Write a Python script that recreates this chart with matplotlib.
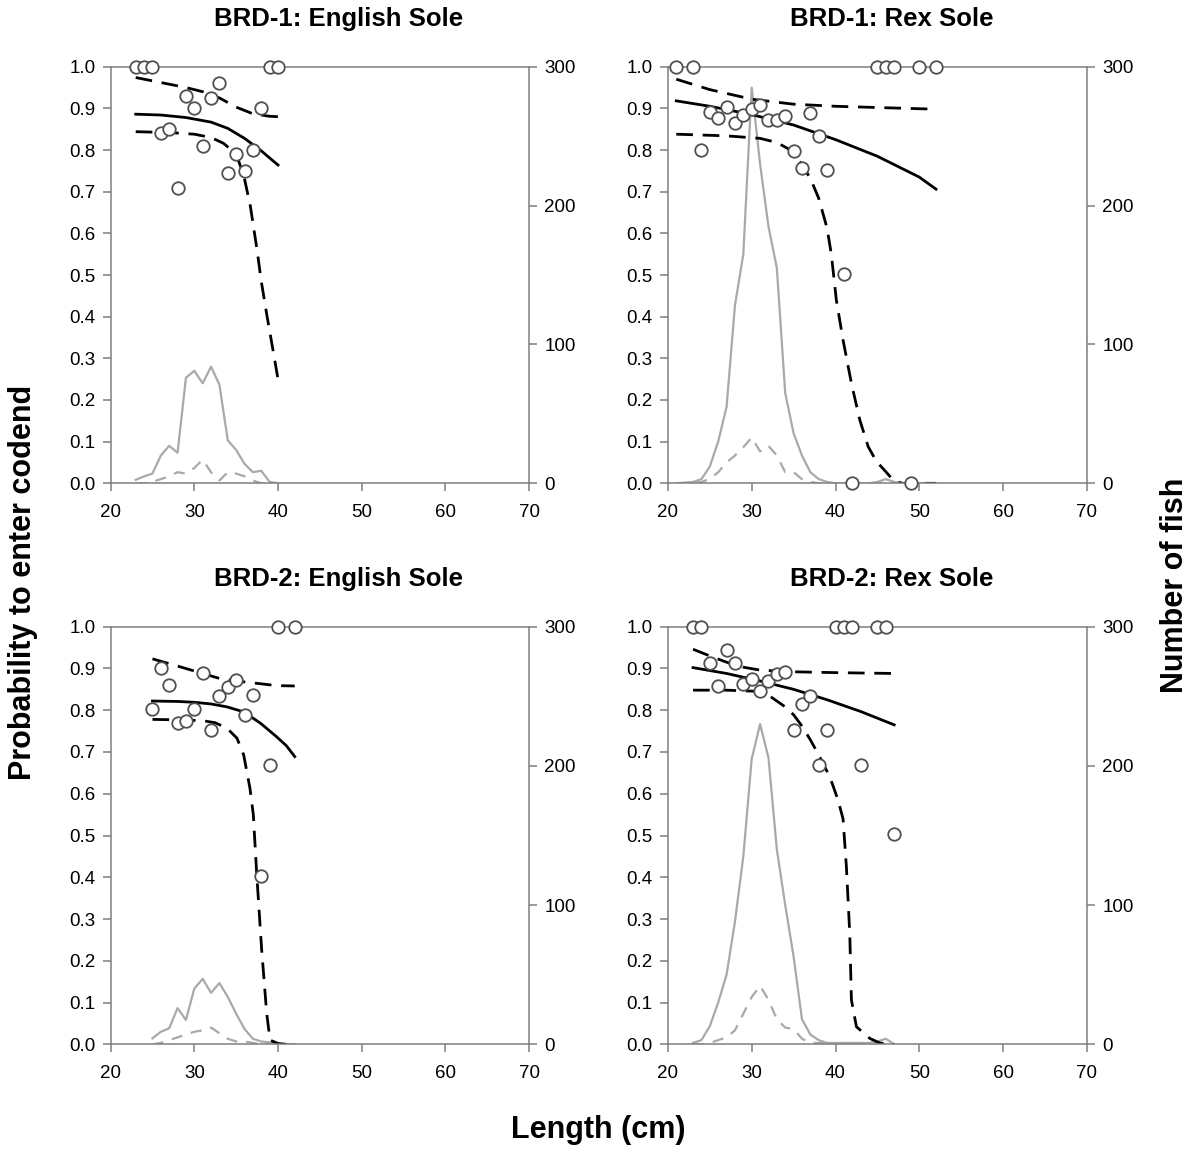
import matplotlib
matplotlib.use("Agg")
import matplotlib.pyplot as plt

plt.rcParams['font.family'] = ['Liberation Sans', 'DejaVu Sans']

titles = ["BRD-1: English Sole", "BRD-1: Rex Sole", "BRD-2: English Sole", "BRD-2: Rex Sole"]

# ---- BRD-1 English Sole ----
e1_obs_len = [23, 24, 25, 26, 27, 28, 29, 30, 31, 32, 33, 34, 35, 36, 37, 38, 39, 40]
e1_obs_p = [1.0, 1.0, 1.0, 0.84, 0.85, 0.71, 0.93, 0.90, 0.81, 0.925, 0.96, 0.745, 0.79, 0.75, 0.80, 0.90, 1.0, 1.0]
e1_fit_len = [23, 26, 29, 32, 34, 36, 38, 40]
e1_fit = [0.886, 0.884, 0.878, 0.867, 0.852, 0.828, 0.798, 0.764]
e1_up_len = [23, 25, 27, 29, 31, 33, 35, 37, 39, 40]
e1_up = [0.974, 0.966, 0.958, 0.950, 0.940, 0.925, 0.903, 0.887, 0.881, 0.880]
e1_lo_len = [23, 27, 30, 32, 33.5, 35, 35.9, 36.7, 37.5, 38, 38.7, 39.4, 40]
e1_lo = [0.844, 0.842, 0.838, 0.83, 0.816, 0.79, 0.74, 0.665, 0.56, 0.485, 0.40, 0.32, 0.25]
e1_n_len = list(range(23, 41))
e1_n_total = [2.5, 5, 7, 20, 27, 22, 76, 81, 72, 84, 71, 31, 24, 14, 8, 9, 1, 0]
e1_n_codend = [0, 0, 1, 3, 5, 8, 7, 11, 17, 8, 2, 8, 7, 5, 2, 0, 0, 0]

# ---- BRD-1 Rex Sole ----
r1_obs_len = [21, 23, 24, 25, 26, 27, 28, 29, 30, 31, 32, 33, 34, 35, 36, 37, 38, 39, 41, 42, 45, 46, 47, 49, 50, 52]
r1_obs_p = [1.0, 1.0, 0.80, 0.892, 0.878, 0.904, 0.864, 0.884, 0.898, 0.908, 0.872, 0.872, 0.882, 0.798, 0.758,
            0.89, 0.834, 0.752, 0.502, 0.0, 1.0, 1.0, 1.0, 0.0, 1.0, 1.0]
r1_fit_len = [21, 25, 30, 35, 40, 45, 50, 52]
r1_fit = [0.918, 0.905, 0.885, 0.86, 0.825, 0.785, 0.735, 0.706]
r1_up_len = [21, 25, 30, 35, 40, 45, 52]
r1_up = [0.97, 0.945, 0.922, 0.91, 0.905, 0.902, 0.898]
r1_lo_len = [21, 27, 31, 33, 35, 36, 37, 38, 39, 39.5, 40.1, 40.9, 41.9, 42.9, 43.9, 44.9, 46, 47, 48, 52]
r1_lo = [0.838, 0.834, 0.828, 0.818, 0.796, 0.764, 0.732, 0.684, 0.612, 0.55, 0.44, 0.344, 0.24, 0.152,
         0.088, 0.052, 0.028, 0.005, 0.0, 0.0]
r1_n_len = list(range(21, 53))
r1_n_total = [0, 0.5, 1, 3, 12, 30, 55, 128, 165, 285, 230, 185, 155, 65, 36, 20, 8, 3, 1, 0, 0, 1, 0, 0,
              1, 3, 1, 0, 0, 0, 0, 0]
r1_n_codend = [0, 0, 0, 1, 3, 8, 15, 20, 26, 33, 23, 27, 20, 8, 8, 3, 1, 0, 0, 0, 0, 0, 0, 0,
               0, 0, 0, 0, 0, 0, 0, 0]

# ---- BRD-2 English Sole ----
e2_obs_len = [25, 26, 27, 28, 29, 30, 31, 32, 33, 34, 35, 36, 37, 38, 39, 40, 42]
e2_obs_p = [0.802, 0.902, 0.86, 0.769, 0.774, 0.802, 0.888, 0.753, 0.834, 0.856, 0.872, 0.789, 0.836, 0.403,
            0.669, 1.0, 1.0]
e2_fit_len = [25, 28, 30, 32, 33.9, 35.9, 37.9, 39.8, 41, 42]
e2_fit = [0.822, 0.821, 0.819, 0.815, 0.808, 0.796, 0.769, 0.737, 0.715, 0.689]
e2_up_len = [25, 28.3, 31, 33.2, 35.9, 39.8, 42]
e2_up = [0.923, 0.904, 0.888, 0.875, 0.868, 0.859, 0.858]
e2_lo_len = [25, 28, 31, 32.5, 33.9, 35.1, 35.9, 36.65, 37.05, 37.45, 38.05, 38.65, 39.05, 40, 41]
e2_lo = [0.778, 0.777, 0.775, 0.77, 0.757, 0.733, 0.693, 0.613, 0.55, 0.41, 0.226, 0.074, 0.01, 0.002, 0.0]
e2_n_len = list(range(25, 43))
e2_n_total = [4.3, 9, 11.5, 26, 17.5, 40, 47, 37, 44, 34, 22, 11, 4, 2, 1.4, 0, 0, 0]
e2_n_codend = [0, 1, 3, 5, 7, 9, 10, 12, 8, 4, 2, 2, 1, 0, 0, 0, 0, 0]

# ---- BRD-2 Rex Sole ----
r2_obs_len = [23, 24, 25, 26, 27, 28, 29, 30, 31, 32, 33, 34, 35, 36, 37, 38, 39, 40, 41, 42, 43, 45, 46, 47]
r2_obs_p = [1.0, 1.0, 0.912, 0.859, 0.944, 0.912, 0.862, 0.875, 0.846, 0.87, 0.886, 0.892, 0.753, 0.814,
            0.835, 0.669, 0.753, 1.0, 1.0, 1.0, 0.669, 1.0, 1.0, 0.503]
r2_fit_len = [23, 27, 31, 35, 39, 43, 47]
r2_fit = [0.902, 0.888, 0.87, 0.85, 0.825, 0.797, 0.765]
r2_up_len = [23, 25, 27, 29, 31, 35, 40, 47]
r2_up = [0.946, 0.93, 0.915, 0.903, 0.896, 0.892, 0.89, 0.888]
r2_lo_len = [23, 27, 31, 32, 33, 34, 35, 36, 37, 38, 39, 39.6, 40.3, 40.9, 41.3, 41.7, 41.9, 42.5, 44.1, 45.3, 47]
r2_lo = [0.848, 0.848, 0.845, 0.836, 0.822, 0.808, 0.789, 0.762, 0.729, 0.693, 0.653, 0.625, 0.585, 0.54,
         0.425, 0.266, 0.106, 0.042, 0.014, 0.003, 0.0]
r2_n_len = list(range(23, 48))
r2_n_total = [1, 3, 13, 30, 50, 88, 135, 205, 230, 206, 140, 100, 63, 18, 7, 3, 1, 1, 1, 1, 1, 1, 2, 4, 0]
r2_n_codend = [0, 0, 1, 3, 5, 10, 22, 34, 42, 32, 18, 12, 11, 4, 1, 1, 1, 0, 0, 0, 0, 0, 0, 0, 0]

panels = [
    (e1_obs_len, e1_obs_p, e1_fit_len, e1_fit, e1_up_len, e1_up, e1_lo_len, e1_lo, e1_n_len, e1_n_total, e1_n_codend),
    (r1_obs_len, r1_obs_p, r1_fit_len, r1_fit, r1_up_len, r1_up, r1_lo_len, r1_lo, r1_n_len, r1_n_total, r1_n_codend),
    (e2_obs_len, e2_obs_p, e2_fit_len, e2_fit, e2_up_len, e2_up, e2_lo_len, e2_lo, e2_n_len, e2_n_total, e2_n_codend),
    (r2_obs_len, r2_obs_p, r2_fit_len, r2_fit, r2_up_len, r2_up, r2_lo_len, r2_lo, r2_n_len, r2_n_total, r2_n_codend),
]

W, H = 1197, 1149
fig = plt.figure(figsize=(W / 100, H / 100), dpi=100)

# axes boxes in pixels: left, top, width, height
boxes = [(110.6, 66.7, 418.5, 416.6), (667.9, 66.7, 419.0, 416.6),
         (110.6, 626.7, 418.5, 417.6), (667.9, 626.7, 419.0, 417.6)]
title_pos = [(339, 19), (892, 19), (339, 579), (892, 579)]

spine_col = '#7f7f7f'
gray = '#a9a9a9'
black_dash = (0, (6, 3.5))
gray_dash = (0, (5, 4))

for i, (box, data) in enumerate(zip(boxes, panels)):
    l, t, w, h = box
    ax = fig.add_axes([l / W, 1 - (t + h) / H, w / W, h / H])
    ax2 = ax.twinx()
    ax.set_zorder(ax2.get_zorder() + 1)
    ax.patch.set_visible(False)

    (obs_x, obs_p, fx, fy, ux, uy, lx, ly, nx, ntot, ncod) = data

    # number of fish on right axis
    ax2.plot(nx, ntot, color=gray, lw=1.6)
    ax2.plot(nx, ncod, color=gray, lw=1.6, linestyle=gray_dash)
    ax2.set_ylim(0, 300)
    ax2.set_yticks([0, 100, 200, 300])

    # fitted probability with confidence band
    ax.plot(fx, fy, color='black', lw=2.0)
    ax.plot(ux, uy, color='black', lw=2.0, linestyle=black_dash)
    ax.plot(lx, ly, color='black', lw=2.0, linestyle=black_dash)
    ax.plot(obs_x, obs_p, linestyle='none', marker='o', ms=9, mfc='white', mec='#505050', mew=1.3,
            clip_on=False, zorder=5)

    ax.set_xlim(20, 70)
    ax.set_ylim(0, 1)
    ax.set_xticks(range(20, 71, 10))
    ax.set_yticks([k / 10 for k in range(11)])
    ax.set_yticklabels(['%.1f' % (k / 10) for k in range(11)])

    for a in (ax, ax2):
        for s in a.spines.values():
            s.set_color(spine_col)
            s.set_linewidth(1.1)
    ax.spines['right'].set_visible(False)
    ax2.spines['left'].set_visible(False)
    ax2.spines['top'].set_visible(False)
    ax2.spines['bottom'].set_visible(False)

    ax.tick_params(axis='both', direction='out', length=6, width=1.1, color=spine_col,
                   labelsize=13.5, labelcolor='black')
    ax.tick_params(axis='x', pad=9)
    ax.tick_params(axis='y', pad=5)
    ax2.tick_params(axis='y', direction='out', length=6, width=1.1, color=spine_col,
                    labelsize=13.5, labelcolor='black', pad=5)

    tx, ty = title_pos[i]
    fig.text(tx / W, 1 - ty / H, titles[i], ha='center', va='center', fontsize=18.5, fontweight='bold')

fig.text(23 / W, 1 - 582 / H, 'Probability to enter codend', rotation=90, ha='center', va='center',
         fontsize=22, fontweight='bold')
fig.text(1175 / W, 1 - 585 / H, 'Number of fish', rotation=90, ha='center', va='center',
         fontsize=22, fontweight='bold')
fig.text(598 / W, 1 - 1130 / H, 'Length (cm)', ha='center', va='center', fontsize=22, fontweight='bold')

fig.savefig('out.png', dpi=100, facecolor='white')
